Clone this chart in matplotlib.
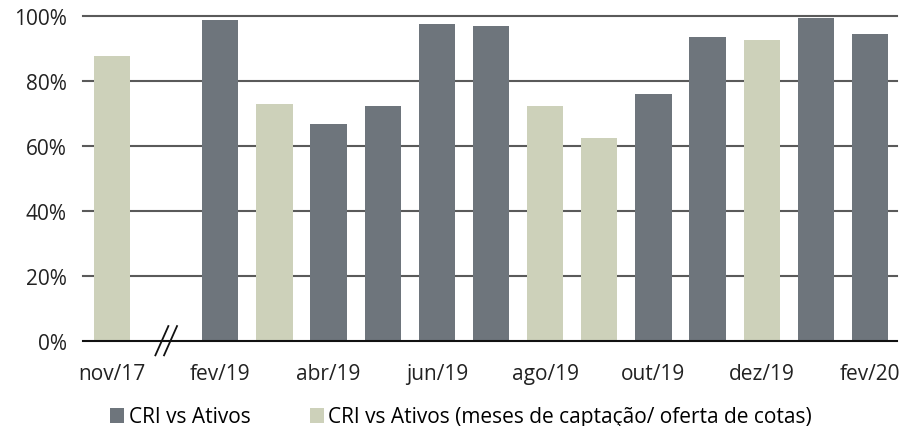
import matplotlib
matplotlib.use("Agg")
import matplotlib.pyplot as plt
from matplotlib.patches import Patch

plt.rcParams['font.family'] = ['Open Sans', 'DejaVu Sans']

categories = ["nov/17", "", "fev/19", "mar/19", "abr/19", "mai/19", "jun/19", "jul/19",
              "ago/19", "set/19", "out/19", "nov/19", "dez/19", "jan/20", "fev/20"]
values = [87.6, None, 98.7, 72.7, 66.6, 72.1, 97.4, 96.7, 72.1, 62.3, 75.8, 93.6, 92.5, 99.3, 94.4]
# 1 = captação month (light), 0 = normal (dark)
captacao = [1, 0, 0, 1, 0, 0, 0, 0, 1, 1, 0, 0, 1, 0, 0]
tick_labels = ["nov/17", "", "fev/19", "", "abr/19", "", "jun/19", "", "ago/19", "",
               "out/19", "", "dez/19", "", "fev/20"]
y_ticks = [0, 20, 40, 60, 80, 100]

dark = "#6e757c"
light = "#cdd1ba"
fs = 15

fig = plt.figure(figsize=(9.01, 4.27), dpi=100)
ax = fig.add_axes([85/901, 1 - 341.7/427, (897 - 85)/901, 325/427])

xs = list(range(len(categories)))
for x, v, c in zip(xs, values, captacao):
    if v is None:
        continue
    ax.bar(x, v, width=0.67, color=light if c else dark, zorder=3)

ax.set_xlim(-0.5, len(categories) - 0.5)
ax.set_ylim(0, 100)
ax.set_yticks(y_ticks)
ax.set_yticklabels([f"{t}%" for t in y_ticks], fontsize=fs, color="#222222")
ax.set_xticks(xs)
ax.set_xticklabels(tick_labels, fontsize=fs, color="#222222")
ax.tick_params(axis='y', length=0, pad=13)
ax.tick_params(axis='x', length=0, pad=16)

for y in y_ticks[1:]:
    ax.axhline(y, color="#5a5a5a", lw=1.5, zorder=1, xmin=-0.003, clip_on=False)
ax.axhline(0, color="#111111", lw=1.5, zorder=4, xmin=-0.003, clip_on=False)

for s in ax.spines.values():
    s.set_visible(False)

# axis break marker
for dx in (-0.08, 0.08):
    ax.plot([1 + dx - 0.12, 1 + dx + 0.12], [-4.5, 4.5], color="#111111", lw=1.3,
            clip_on=False, zorder=5)

handles = [Patch(facecolor=dark, edgecolor='none', label="CRI vs Ativos"),
           Patch(facecolor=light, edgecolor='none',
                 label="CRI vs Ativos (meses de captação/ oferta de cotas)")]
fig.legend(handles=handles, loc='center', bbox_to_anchor=(461/901, 1 - 418/427),
           ncol=2, frameon=False, fontsize=fs, handlelength=0.7, handleheight=0.7,
           handletextpad=0.2, columnspacing=2.85, borderaxespad=0, borderpad=0)

fig.savefig("out.png", dpi=100)
